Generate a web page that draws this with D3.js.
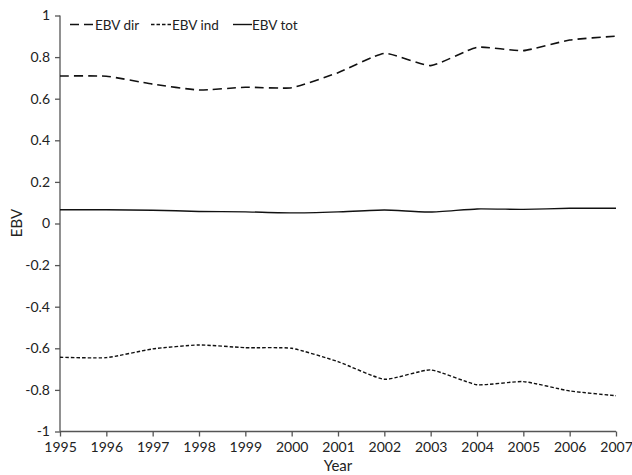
<!DOCTYPE html>
<html><head><meta charset="utf-8">
<script src="https://cdn.jsdelivr.net/npm/d3@7"></script>
<style>body{margin:0;background:#fff}svg{display:block}text{font-family:Lato,"Open Sans",sans-serif;fill:#222}</style>
</head><body><svg id="c" width="632" height="475"></svg>
<script>
const years = [1995,1996,1997,1998,1999,2000,2001,2002,2003,2004,2005,2006,2007];
const ebvDir = [0.709,0.708,0.670,0.642,0.655,0.653,0.725,0.818,0.759,0.847,0.831,0.882,0.901];
const ebvInd = [-0.643,-0.645,-0.603,-0.584,-0.597,-0.600,-0.664,-0.749,-0.704,-0.775,-0.760,-0.805,-0.828];
const ebvTot = [0.066,0.066,0.064,0.058,0.056,0.051,0.056,0.065,0.055,0.070,0.068,0.073,0.073];
const yTicks = [1,0.8,0.6,0.4,0.2,0,-0.2,-0.4,-0.6,-0.8,-1];
const seriesNames = ["EBV dir","EBV ind","EBV tot"];

const svg = d3.select("#c");
const x = d3.scaleLinear().domain([1995,2007]).range([60,616]);
const y = d3.scaleLinear().domain([-1,1]).range([431.5,15.5]);
const fmtY = d => String(Math.round(d*10)/10);

const yAx = svg.append("g").attr("transform","translate(60,0)")
  .call(d3.axisLeft(y).tickValues(yTicks).tickSize(5).tickPadding(5).tickFormat(fmtY));
const xAx = svg.append("g").attr("transform","translate(0,431.5)")
  .call(d3.axisBottom(x).tickValues(years).tickSize(5).tickPadding(6).tickFormat(d3.format("d")));
[yAx,xAx].forEach(g=>{
  g.selectAll("path,line").attr("stroke","#555").attr("stroke-width",1.3);
  g.selectAll("text").attr("font-size",14).attr("fill","#222").style("font-family","Lato,'Open Sans',sans-serif");
});
yAx.select(".domain").attr("d","M0,15.5V431.5");
xAx.select(".domain").attr("d","M60,0H616");

const styles = [{d:"9,5",w:1.6},{d:"3.5,2",w:1.4},{d:null,w:1.4}];
const data = [ebvDir, ebvInd, ebvTot];
const line = d3.line().x((d,i)=>x(years[i])).y(d=>y(d)).curve(d3.curveCardinal.tension(0.5));
data.forEach((s,k)=>{
  svg.append("path").datum(s).attr("d",line).attr("fill","none").attr("stroke","#111")
    .attr("stroke-width",styles[k].w).attr("stroke-dasharray",styles[k].d);
});

// legend
const lx = [[70,95],[151,172],[233,252]];
seriesNames.forEach((n,k)=>{
  svg.append("line").attr("x1",lx[k][0]).attr("x2",lx[k][1]).attr("y1",24.5).attr("y2",24.5)
    .attr("stroke","#111").attr("stroke-width",styles[k].w).attr("stroke-dasharray",styles[k].d);
  svg.append("text").attr("x",lx[k][1]).attr("y",29.5).attr("font-size",13.5).text(n);
});

svg.append("text").attr("x",338).attr("y",471).attr("text-anchor","middle").attr("font-size",15).text("Year");
svg.append("text").attr("transform","translate(22,223) rotate(-90)").attr("text-anchor","middle").attr("font-size",15).text("EBV");
</script></body></html>
